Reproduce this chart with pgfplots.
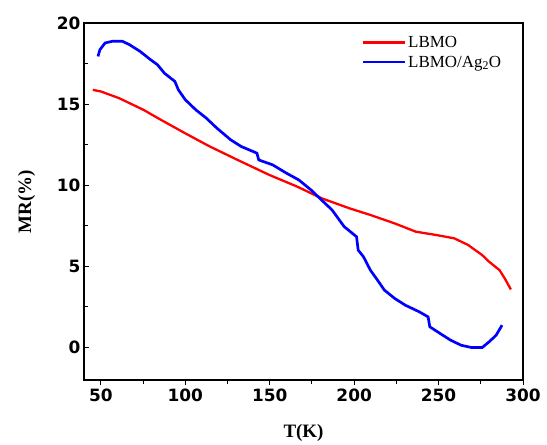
\documentclass[border=0pt]{standalone}
\usepackage{fontspec}
\setmainfont{Liberation Serif}
\newfontfamily\tickfont{DejaVu Sans}
\usepackage{pgfplots}
\pgfplotsset{compat=1.18}
\begin{document}
\begin{tikzpicture}
\useasboundingbox (-84bp,-65bp) rectangle (463bp,380bp);
\begin{axis}[
  at={(0,0)}, anchor=south west,
  scale only axis, width=439bp, height=357bp,
  xmin=40, xmax=300, ymin=-2, ymax=20,
  xtick={50,100,...,300}, ytick={0,5,...,20},
  minor xtick={75,125,...,275}, minor ytick={-2.5,2.5,7.5,...,17.5},
  axis line style={line width=1.2pt},
  tick style={black, line width=1pt},
  major tick length=5bp, minor tick length=4bp,
  xtick pos=bottom, ytick pos=left,
  xtick align=outside, ytick align=inside,
  /pgf/number format/assume math mode=true,
  ticklabel style={font=\tickfont\bfseries\fontsize{17}{17}\selectfont},
  xlabel={\textbf{T(K)}}, ylabel={\textbf{MR(\%)}},
  label style={font=\fontsize{19}{19}\selectfont},
  xlabel style={yshift=-16bp},
  ylabel style={yshift=15bp},
  legend style={draw=none, fill=none, at={(0.632,0.975)}, anchor=north west, font=\fontsize{17}{18}\selectfont, row sep=3bp, inner xsep=0pt},
  legend cell align=left,
  legend image code/.code={\draw[#1, line width=2.6pt] (0bp,0bp) -- (42bp,0bp);},
]
\addplot[red, line width=2.3pt] coordinates {
(45.2,15.88) (50,15.78) (60.75,15.37) (75.2,14.65) (85.6,14.03) (100,13.2)
(114.5,12.39) (131,11.56) (149.7,10.64) (166.2,9.92) (180.7,9.2) (197.2,8.58)
(209.6,8.17) (224,7.65) (236.5,7.14) (248.9,6.93) (259.3,6.73) (267.5,6.32)
(275.8,5.70) (279.9,5.29) (286.1,4.77) (289.2,4.26) (292.8,3.58)
};
\addlegendentry{LBMO}
\addplot[blue, line width=2.7pt] coordinates {
(48.3,17.94) (49.4,18.35) (52.5,18.77) (56.6,18.87) (62.8,18.87) (67,18.66)
(73.2,18.25) (79.4,17.74) (83.5,17.43) (87.6,16.91) (93.8,16.4) (95.9,15.88)
(100,15.27) (106.2,14.65) (112.4,14.14) (118.7,13.52) (126.9,12.8) (133.1,12.39)
(142.4,11.98) (143.5,11.56) (151.7,11.26) (160,10.74) (167.2,10.33) (174.5,9.71)
(180.7,9.09) (186.9,8.48) (194.1,7.45) (201.4,6.83) (202.4,6.0) (205.5,5.6)
(209.6,4.77) (213.8,4.16) (217.9,3.54) (224.1,3.02) (230.3,2.61) (238.6,2.2)
(243.8,1.89) (244.8,1.28) (251,0.86) (257.2,0.45) (263.4,0.14) (269.6,0.0)
(275.8,0.0) (279.9,0.35) (284.1,0.76) (287.6,1.38)
};
\addlegendentry{LBMO/Ag\textsubscript{2}O}
\end{axis}
\end{tikzpicture}
\end{document}
